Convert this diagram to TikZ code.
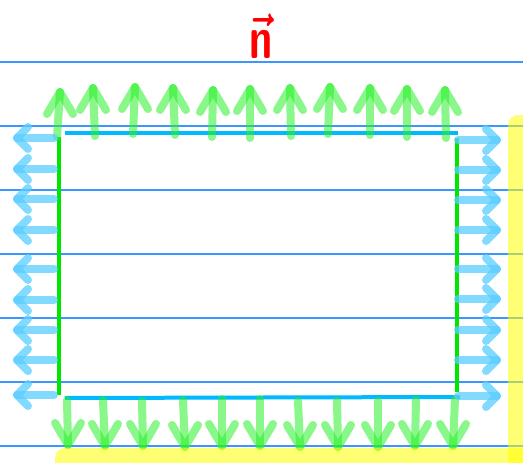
\documentclass[tikz,border=0pt]{standalone}
\usepackage{amsmath,amssymb}
\usepackage{tikz}
\usetikzlibrary{positioning,calc}
\usepackage{xcolor}

\definecolor{ruleblue}{RGB}{60,150,255}
\definecolor{edgecyan}{RGB}{0,185,255}
\definecolor{edgegreen}{RGB}{0,230,0}
\definecolor{penblue}{RGB}{90,205,255}
\definecolor{pengreen}{RGB}{40,240,40}
\definecolor{hiyellow}{RGB}{255,255,0}

\begin{document}
\begin{tikzpicture}[
  x=1pt, y=-1pt,
  rule/.style={ruleblue, line width=1.4pt},
  topedge/.style={edgecyan, line width=4pt},
  sideedge/.style={edgegreen, line width=4pt},
  uparrow/.style={pengreen, line width=8pt, line cap=round, line join=round, opacity=0.55},
  sidearrow/.style={penblue, line width=8pt, line cap=round, line join=round, opacity=0.75},
  marker/.style={hiyellow, opacity=0.55, rounded corners=10pt},
]
\useasboundingbox (0,0) rectangle (523,463);
\clip (0,0) rectangle (523,463);

% Ruled paper
\foreach \y in {62,126,190,254,318,382,446}
  \draw[rule] (0,\y) -- (523,\y);

% Boundary of the box
\draw[topedge] (65,133) -- (458,133);
\draw[topedge] (65,398) -- (460,397);
\draw[sideedge] (59,137) -- (59,395);
\draw[sideedge] (457,138) -- (457,392);

% Normals on the top edge
\foreach \tx/\ty/\bx/\by in {60/92/57/137, 93/88/95/136, 135/87/133/134, 173/88/175/135, 213/90/212/137, 250/89/250/138, 290/88/291/136, 330/87/328/134, 370/88/370/135, 407/89/407/137, 445/90/446/138} {
  \draw[uparrow] (\bx,\by) -- (\tx,\ty);
  \draw[uparrow] (\tx-13,\ty+22) -- (\tx,\ty) -- (\tx+13,\ty+22);
}

% Normals on the bottom edge
\foreach \bx/\by/\tx/\ty in {67/400/68/445, 103/400/105/446, 142/401/143/446, 183/400/185/447, 222/399/222/446, 260/399/260/446, 298/401/300/447, 337/401/338/447, 378/401/378/447, 416/400/415/446, 455/399/453/446} {
  \draw[uparrow] (\bx,\by) -- (\tx,\ty);
  \draw[uparrow] (\tx-13,\ty-22) -- (\tx,\ty) -- (\tx+13,\ty-22);
}

% Normals on the left edge
\foreach \y in {138,169,199,230,269,300,330,360,395} {
  \draw[sidearrow] (54,\y) -- (17,\y);
  \draw[sidearrow] (28,\y-11) -- (17,\y) -- (28,\y+11);
}

% Normals on the right edge
\foreach \y in {140,170,200,230,269,299,330,360,396} {
  \draw[sidearrow] (458,\y) -- (497,\y);
  \draw[sidearrow] (486,\y-11) -- (497,\y) -- (486,\y+11);
}

% Highlighter strokes
\fill[marker] (508,115) rectangle (540,480);
\fill[marker] (55,448) rectangle (540,480);

% Label
\node[text=red, font=\huge\boldmath, xscale=2.0, yscale=2.9, inner sep=0pt, anchor=base] (normal) at (261,58) {$\vec{\mathsf{n}}$};

\end{tikzpicture}
\end{document}
